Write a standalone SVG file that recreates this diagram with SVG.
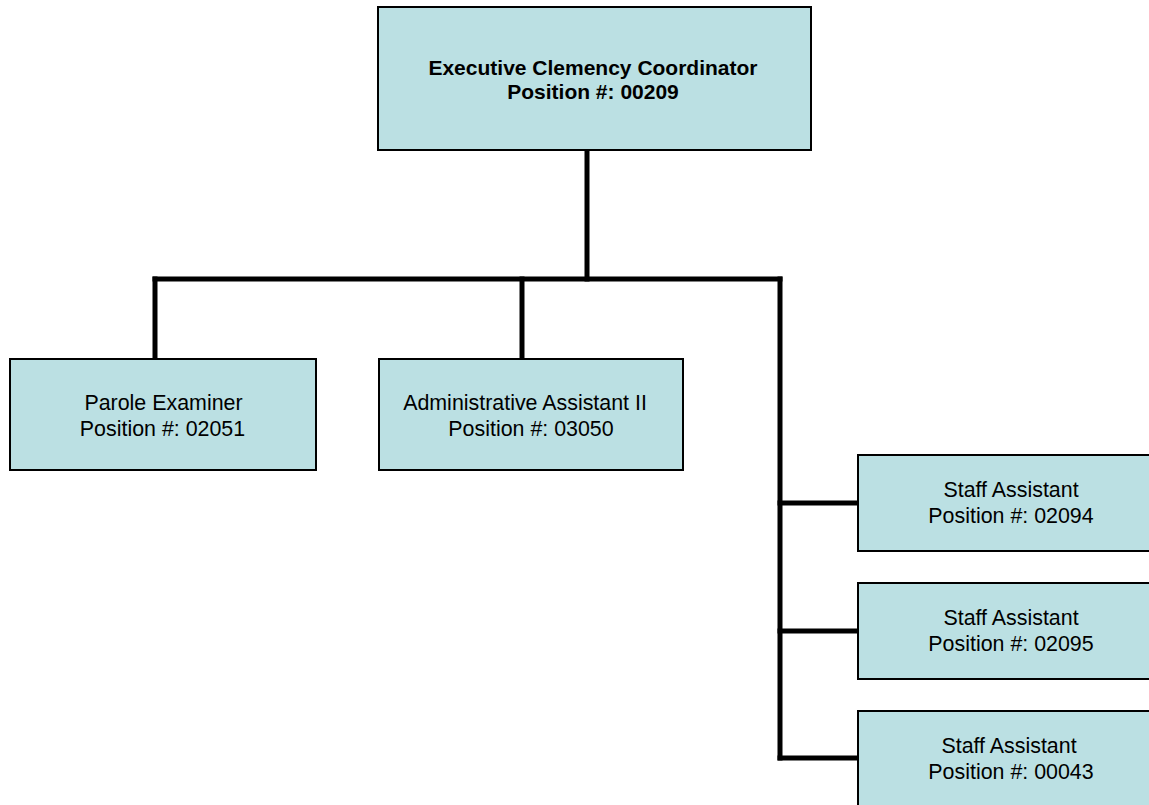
<svg xmlns="http://www.w3.org/2000/svg" width="1149" height="805" viewBox="0 0 1149 805">
<style>
.box{fill:#BBE0E3;stroke:#000;stroke-width:2}
.t{font-family:"Liberation Sans",Arial,sans-serif;font-size:21.4px;fill:#000;text-anchor:middle}
.b{font-weight:bold;font-size:21px}
.c{stroke:#000;stroke-width:5;fill:none;stroke-linecap:square}
</style>
<rect width="1149" height="805" fill="#fff"/>
<g id="connectors">
<line class="c" x1="587" y1="152" x2="587" y2="279"/>
<line class="c" x1="155" y1="279" x2="780" y2="279"/>
<line class="c" x1="155" y1="279" x2="155" y2="357"/>
<line class="c" x1="522" y1="279" x2="522" y2="357"/>
<line class="c" x1="780" y1="279" x2="780" y2="758"/>
<line class="c" x1="780" y1="503" x2="856" y2="503"/>
<line class="c" x1="780" y1="631" x2="856" y2="631"/>
<line class="c" x1="780" y1="758" x2="856" y2="758"/>
</g>
<g id="exec">
<rect class="box" x="378" y="7" width="433" height="143"/>
<text class="t b" x="593" y="75">Executive Clemency Coordinator</text>
<text class="t b" x="593" y="99">Position #: 00209</text>
</g>
<g id="parole">
<rect class="box" x="10" y="359" width="306" height="111"/>
<text class="t" x="163.5" y="410">Parole Examiner</text>
<text class="t" x="162.5" y="436">Position #: 02051</text>
</g>
<g id="admin">
<rect class="box" x="379" y="359" width="304" height="111"/>
<text class="t" x="525" y="410">Administrative Assistant II</text>
<text class="t" x="531" y="436">Position #: 03050</text>
</g>
<g id="staff1">
<rect class="box" x="858" y="455" width="306" height="96"/>
<text class="t" x="1011" y="497">Staff Assistant</text>
<text class="t" x="1011" y="523">Position #: 02094</text>
</g>
<g id="staff2">
<rect class="box" x="858" y="583" width="306" height="96"/>
<text class="t" x="1011" y="625">Staff Assistant</text>
<text class="t" x="1011" y="651">Position #: 02095</text>
</g>
<g id="staff3">
<rect class="box" x="858" y="711" width="306" height="100"/>
<text class="t" x="1009" y="753">Staff Assistant</text>
<text class="t" x="1011" y="779">Position #: 00043</text>
</g>
</svg>
